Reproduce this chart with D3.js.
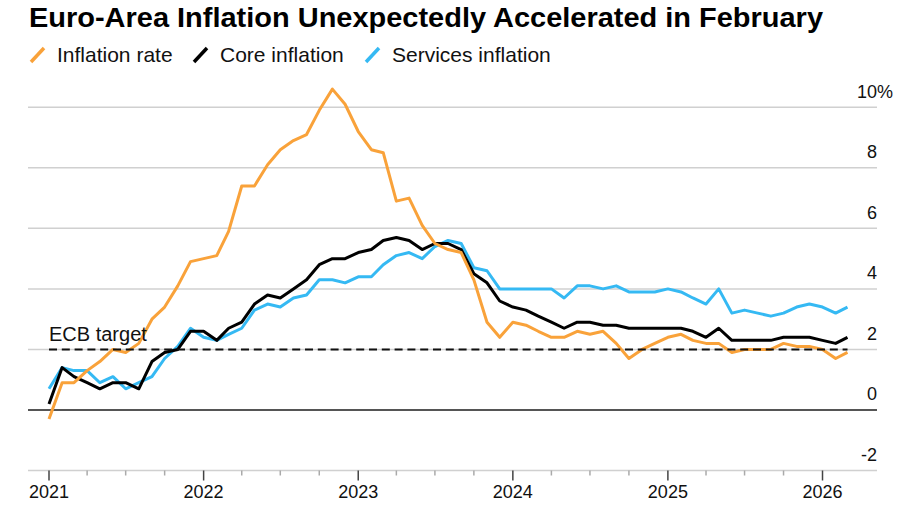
<!DOCTYPE html>
<html>
<head>
<meta charset="utf-8">
<script src="https://cdn.jsdelivr.net/npm/d3@7"></script>
<style>
  body { margin: 0; background: #fff; }
  svg { font-family: "Liberation Sans", Arial, sans-serif; }
</style>
</head>
<body>
<div id="frame_div"></div>
<script>
// Chart constants
const FRAME_WIDTH = 900;
const FRAME_HEIGHT = 522;

// first value is Dec 2020, last is Feb 2026 (plotted at month end)
const FIRST_MONTH = new Date(2020, 11, 1);
const LAST_MONTH = new Date(2026, 1, 1);

const inflation = [-0.3,
  0.9, 0.9, 1.3, 1.6, 2.0, 1.9, 2.2, 3.0, 3.4, 4.1, 4.9, 5.0,
  5.1, 5.9, 7.4, 7.4, 8.1, 8.6, 8.9, 9.1, 9.9, 10.6, 10.1, 9.2,
  8.6, 8.5, 6.9, 7.0, 6.1, 5.5, 5.3, 5.2, 4.3, 2.9, 2.4, 2.9,
  2.8, 2.6, 2.4, 2.4, 2.6, 2.5, 2.6, 2.2, 1.7, 2.0, 2.2, 2.4,
  2.5, 2.3, 2.2, 2.2, 1.9, 2.0, 2.0, 2.0, 2.2, 2.1, 2.1, 2.0,
  1.7, 1.9];

const core = [0.2,
  1.4, 1.1, 0.9, 0.7, 0.9, 0.9, 0.7, 1.6, 1.9, 2.0, 2.6, 2.6,
  2.3, 2.7, 2.9, 3.5, 3.8, 3.7, 4.0, 4.3, 4.8, 5.0, 5.0, 5.2,
  5.3, 5.6, 5.7, 5.6, 5.3, 5.5, 5.5, 5.3, 4.5, 4.2, 3.6, 3.4,
  3.3, 3.1, 2.9, 2.7, 2.9, 2.9, 2.8, 2.8, 2.7, 2.7, 2.7, 2.7,
  2.7, 2.6, 2.4, 2.7, 2.3, 2.3, 2.3, 2.3, 2.4, 2.4, 2.4, 2.3,
  2.2, 2.4];

const services = [0.7,
  1.4, 1.3, 1.3, 0.9, 1.1, 0.7, 0.9, 1.1, 1.7, 2.1, 2.7, 2.4,
  2.3, 2.5, 2.7, 3.3, 3.5, 3.4, 3.7, 3.8, 4.3, 4.3, 4.2, 4.4,
  4.4, 4.8, 5.1, 5.2, 5.0, 5.4, 5.6, 5.5, 4.7, 4.6, 4.0, 4.0,
  4.0, 4.0, 4.0, 3.7, 4.1, 4.1, 4.0, 4.1, 3.9, 3.9, 3.9, 4.0,
  3.9, 3.7, 3.5, 4.0, 3.2, 3.3, 3.2, 3.1, 3.2, 3.4, 3.5, 3.4,
  3.2, 3.4];

const ECB_TARGET = 2;
const Y_TICKS = [-2, 0, 2, 4, 6, 8, 10];
const YEAR_LABELS = ["2021", "2022", "2023", "2024", "2025", "2026"];

const SERIES_NAMES = ["Inflation rate", "Core inflation", "Services inflation"];
const COLORS = {inflation: "#F9A23A", core: "#000000", services: "#35B9F3"};

const FRAME = d3.select("#frame_div")
  .append("svg")
    .attr("width", FRAME_WIDTH)
    .attr("height", FRAME_HEIGHT);

// each value sits at the end of its month
const months = d3.timeMonth.range(FIRST_MONTH, d3.timeMonth.offset(LAST_MONTH, 1));
const dates = months.map(m => d3.timeMonth.offset(m, 1));

const X_SCALE = d3.scaleTime()
  .domain([dates[0], dates[dates.length - 1]])
  .range([49, 847.5]);

const Y_SCALE = d3.scaleLinear()
  .domain([-2, 10])
  .range([470.5, 107.3]);

const GRID_LEFT = 28;
const GRID_RIGHT = 877;

// title
FRAME.append("text")
  .attr("x", 29)
  .attr("y", 27)
  .attr("font-size", 28)
  .attr("font-weight", "bold")
  .attr("textLength", 794)
  .attr("lengthAdjust", "spacingAndGlyphs")
  .attr("fill", "#000")
  .text("Euro-Area Inflation Unexpectedly Accelerated in February");

// legend
const legendX = [30, 193, 365];
const legendColors = [COLORS.inflation, COLORS.core, COLORS.services];
const legend = FRAME.selectAll(".legend")
  .data(SERIES_NAMES)
  .enter()
  .append("g")
    .attr("class", "legend")
    .attr("transform", (d, i) => `translate(${legendX[i]},0)`);

legend.append("line")
  .attr("x1", 1).attr("y1", 62)
  .attr("x2", 14).attr("y2", 48)
  .attr("stroke", (d, i) => legendColors[i])
  .attr("stroke-width", 3.5);

legend.append("text")
  .attr("x", 27)
  .attr("y", 62)
  .attr("font-size", 21)
  .attr("fill", "#111")
  .text(d => d);

// horizontal grid
FRAME.selectAll(".grid")
  .data(Y_TICKS)
  .enter()
  .append("line")
    .attr("class", "grid")
    .attr("x1", GRID_LEFT)
    .attr("x2", GRID_RIGHT)
    .attr("y1", d => Y_SCALE(d))
    .attr("y2", d => Y_SCALE(d))
    .attr("stroke", d => d === 0 ? "#555" : "#d0d0d0")
    .attr("stroke-width", d => d === 0 ? 2 : 1.5);

// y labels above gridlines, right side
FRAME.selectAll(".ylab")
  .data(Y_TICKS)
  .enter()
  .append("text")
    .attr("class", "ylab")
    .attr("x", GRID_RIGHT)
    .attr("y", d => Y_SCALE(d) - 9.5)
    .attr("text-anchor", "end")
    .attr("font-size", 18)
    .attr("fill", "#111")
    .text(d => d);

FRAME.append("text")
  .attr("x", GRID_RIGHT)
  .attr("y", Y_SCALE(10) - 9.5)
  .attr("font-size", 18)
  .attr("fill", "#111")
  .text("%");

// x axis ticks
const quarterTicks = d3.timeMonth.every(3).range(new Date(2021, 0, 1), new Date(2026, 1, 1));
FRAME.selectAll(".qtick")
  .data(quarterTicks)
  .enter()
  .append("line")
    .attr("class", "qtick")
    .attr("x1", d => X_SCALE(d))
    .attr("x2", d => X_SCALE(d))
    .attr("y1", Y_SCALE(-2))
    .attr("y2", d => Y_SCALE(-2) + (d.getMonth() === 0 ? 10 : 5))
    .attr("stroke", d => d.getMonth() === 0 ? "#444" : "#aaa")
    .attr("stroke-width", 1.5);

FRAME.selectAll(".xlab")
  .data(YEAR_LABELS)
  .enter()
  .append("text")
    .attr("class", "xlab")
    .attr("x", d => X_SCALE(new Date(+d, 0, 1)))
    .attr("y", 498)
    .attr("text-anchor", "middle")
    .attr("font-size", 18)
    .attr("fill", "#111")
    .text(d => d);

// series lines: services first, headline on top
const line = d3.line()
  .x((d, i) => X_SCALE(dates[i]))
  .y(d => Y_SCALE(d));

[[services, COLORS.services], [core, COLORS.core], [inflation, COLORS.inflation]]
  .forEach(([vals, color]) => {
    FRAME.append("path")
      .datum(vals)
      .attr("d", line)
      .attr("fill", "none")
      .attr("stroke", color)
      .attr("stroke-width", 3)
      .attr("stroke-linejoin", "round");
  });

// ECB target
FRAME.append("line")
  .attr("x1", X_SCALE(dates[0]))
  .attr("x2", X_SCALE(dates[dates.length - 1]))
  .attr("y1", Y_SCALE(ECB_TARGET))
  .attr("y2", Y_SCALE(ECB_TARGET))
  .attr("stroke", "#111")
  .attr("stroke-width", 2)
  .attr("stroke-dasharray", "8,4.8");

FRAME.append("text")
  .attr("x", 49)
  .attr("y", 340.5)
  .attr("font-size", 20)
  .attr("fill", "#111")
  .text("ECB target");
</script>
</body>
</html>
